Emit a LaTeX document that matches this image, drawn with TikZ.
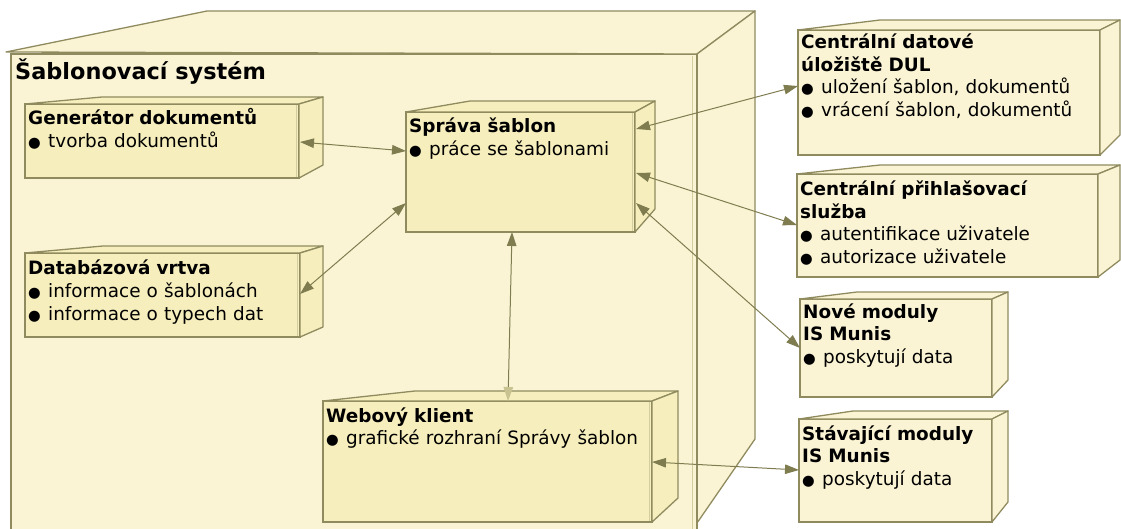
\documentclass[tikz,border=0pt]{standalone}
\usepackage{fontspec}
\setmainfont{DejaVu Sans}
\usetikzlibrary{arrows.meta,calc}
\definecolor{sysfill}{HTML}{FAF4D4}
\definecolor{infill}{HTML}{F7EEBD}
\definecolor{edge}{HTML}{8F8B5F}
\definecolor{innerln}{HTML}{D3CD9F}
\definecolor{arr}{HTML}{7F7D50}
\definecolor{arrlight}{HTML}{C9C291}
\newcommand\bul{\makebox[20pt][l]{\fontsize{14.5}{14.5}\selectfont ●}}
\begin{document}
\begin{tikzpicture}[x=1pt,y=-1pt,
  front/.style={draw=edge, line width=1.3pt, rectangle, inner sep=0pt, outer sep=0pt, anchor=north west},
  face/.style={draw=edge, line width=1.3pt, line join=round},
  shine/.style={draw=innerln, line width=1pt},
  txt/.style={anchor=base west, inner sep=0pt, text width=330pt, align=left, font=\fontsize{18.4}{22.5}\selectfont},
  ttl/.style={anchor=base west, inner sep=0pt, font=\bfseries\fontsize{22.4}{24}\selectfont},
  link/.style={draw=arr, line width=1pt, {Triangle[length=14pt,width=9.5pt,color=arr]}-{Triangle[length=14pt,width=9.5pt,color=arr]}},
  linklight/.style={draw=arr, line width=1pt, {Triangle[length=14pt,width=9.5pt,color=arr]}-{Triangle[length=14pt,width=9.5pt,color=arrlight]}}
]
\useasboundingbox (0,0) rectangle (1121,529);
\clip (0,0) rectangle (1121,529);
% ---------- big system node ----------
\node[front, fill=sysfill, minimum width=686pt, minimum height=490pt] (sys) at (11,54) {};
\filldraw[face, fill=sysfill] (6,52) -- (207,11) -- (755,11) -- (sys.north east) -- cycle;
\filldraw[face, fill=sysfill] (sys.north east) -- (755,11) -- (755,439) -- (697,523) -- cycle;
\draw[shine] ($(sys.north east)+(-5,2)$) -- ($(sys.south east)+(-5,0)$);
\draw[edge, line width=1.3pt] (sys.north east) -- (sys.south east);
\node[ttl] (title) at (15,80) {Šablonovací systém};
% ---------- Generator ----------
\node[front, fill=infill, minimum width=274pt, minimum height=74pt] (gen) at (25,104) {};
\filldraw[face, fill=infill] (gen.north west) -- (102,97) -- (323,97) -- (gen.north east) -- cycle;
\filldraw[face, fill=infill] (gen.north east) -- (323,97) -- (323,165) -- (gen.south east) -- cycle;
\draw[shine] ($(gen.north east)+(-3,1)$) -- ($(gen.south east)+(-3,-1)$);
\node[txt] (gent) at (28,125) {\textbf{Generátor dokumentů}\\\bul tvorba dokumentů};
% ---------- Sprava sablon ----------
\node[front, fill=infill, minimum width=229pt, minimum height=120pt] (spr) at (406,112) {};
\filldraw[face, fill=infill] (spr.north west) -- (470,101) -- (655,101) -- (spr.north east) -- cycle;
\filldraw[face, fill=infill] (spr.north east) -- (655,101) -- (655,209) -- (spr.south east) -- cycle;
\draw[shine] ($(spr.north east)+(-3,1)$) -- ($(spr.south east)+(-3,-1)$);
\node[txt] (sprt) at (409,133) {\textbf{Správa šablon}\\\bul práce se šablonami};
% ---------- Databazova vrtva ----------
\node[front, fill=infill, minimum width=275pt, minimum height=84pt] (db) at (25,253) {};
\filldraw[face, fill=infill] (db.north west) -- (103,246) -- (323,246) -- (db.north east) -- cycle;
\filldraw[face, fill=infill] (db.north east) -- (323,246) -- (323,327) -- (db.south east) -- cycle;
\draw[shine] ($(db.north east)+(-3,1)$) -- ($(db.south east)+(-3,-1)$);
\node[txt] (dbt) at (28,275) {\textbf{Databázová vrtva}\\\bul informace o šablonách\\\bul informace o typech dat};
% ---------- Webovy klient ----------
\node[front, fill=infill, minimum width=329pt, minimum height=121pt] (web) at (323,401) {};
\filldraw[face, fill=infill] (web.north west) -- (415,391) -- (678,391) -- (web.north east) -- cycle;
\filldraw[face, fill=infill] (web.north east) -- (678,391) -- (678,498) -- (web.south east) -- cycle;
\draw[shine] ($(web.north east)+(-3,1)$) -- ($(web.south east)+(-3,-1)$);
\node[txt] (webt) at (326,422) {\textbf{Webový klient}\\\bul grafické rozhraní Správy šablon};
% ---------- Centralni datove uloziste ----------
\node[front, fill=sysfill, minimum width=302pt, minimum height=125pt] (cdu) at (798,30) {};
\filldraw[face, fill=sysfill] (cdu.north west) -- (880,20) -- (1120,20) -- (cdu.north east) -- cycle;
\filldraw[face, fill=sysfill] (cdu.north east) -- (1120,20) -- (1120,135) -- (cdu.south east) -- cycle;
\node[txt] (cdut) at (801,49) {\textbf{Centrální datové}\\\textbf{úložiště DUL}\\\bul uložení šablon, dokumentů\\\bul vrácení šablon, dokumentů};
% ---------- Centralni prihlasovaci sluzba ----------
\node[front, fill=sysfill, minimum width=301pt, minimum height=103pt] (cps) at (797,174) {};
\filldraw[face, fill=sysfill] (cps.north west) -- (880,165) -- (1120,165) -- (cps.north east) -- cycle;
\filldraw[face, fill=sysfill] (cps.north east) -- (1120,165) -- (1120,260) -- (cps.south east) -- cycle;
\node[txt] (cpst) at (800,196) {\textbf{Centrální přihlašovací}\\\textbf{služba}\\\bul autentifikace uživatele\\\bul autorizace uživatele};
% ---------- Nove moduly ----------
\node[front, fill=sysfill, minimum width=192pt, minimum height=98pt] (nove) at (800,299) {};
\filldraw[face, fill=sysfill] (nove.north west) -- (857,292) -- (1008,292) -- (nove.north east) -- cycle;
\filldraw[face, fill=sysfill] (nove.north east) -- (1008,292) -- (1008,380) -- (nove.south east) -- cycle;
\node[txt] (novet) at (803,318) {\textbf{Nové moduly}\\\textbf{IS Munis}\\\bul poskytují data};
% ---------- Stavajici moduly ----------
\node[front, fill=sysfill, minimum width=193pt, minimum height=103pt] (stav) at (799,419) {};
\filldraw[face, fill=sysfill] (stav.north west) -- (853,411) -- (1008,411) -- (stav.north east) -- cycle;
\filldraw[face, fill=sysfill] (stav.north east) -- (1008,411) -- (1008,502) -- (stav.south east) -- cycle;
\node[txt] (stavt) at (802,440) {\textbf{Stávající moduly}\\\textbf{IS Munis}\\\bul poskytují data};
% ---------- connectors ----------
\draw[link] ($(gen.north east)+(1,38)$) -- ($(spr.north west)+(0,39)$);
\draw[link] ($(db.north east)+(0,41)$) -- ($(spr.north west)+(0,91)$);
\draw[link] ($(spr.north east)+(1,17)$) -- ($(cdu.north west)+(0,56)$);
\draw[link] ($(spr.north east)+(1,61)$) -- ($(cps.north west)+(0,51)$);
\draw[link] ($(spr.north east)+(1,91)$) -- ($(nove.north west)+(0,49)$);
\draw[link] ($(web.north east)+(0,61)$) -- ($(stav.north west)+(0,51)$);
\draw[linklight] ($(spr.south west)+(106,0)$) -- ($(web.north west)+(185,0)$);
\end{tikzpicture}
\end{document}
